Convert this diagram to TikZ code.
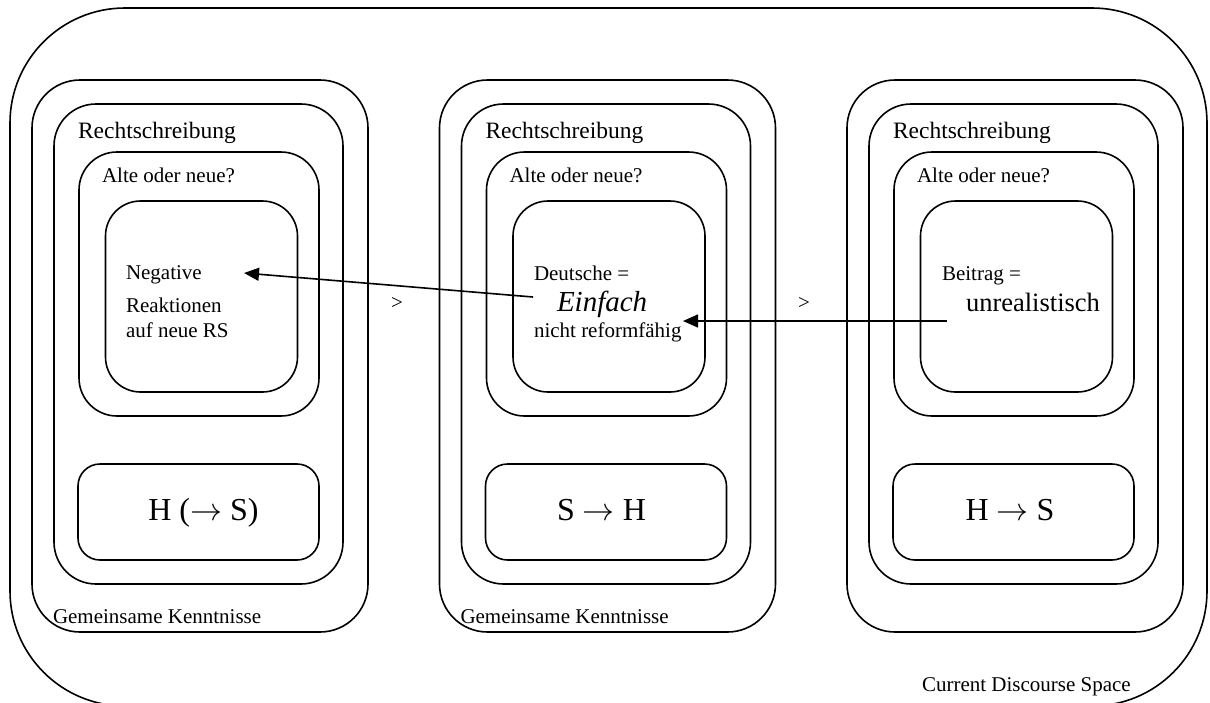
\RequirePackage{fix-cm}
\documentclass[tikz,border=0pt]{standalone}
\usepackage{fontspec}
\setmainfont{Liberation Serif}
\usetikzlibrary{arrows.meta}
\newcommand{\rarr}{\ensuremath{\rightarrow}}
\tikzset{
  rbox/.style={draw, line width=1.6pt, rectangle, rounded corners=#1, inner sep=0pt, outer sep=0pt},
  txt/.style={inner sep=0pt, outer sep=0pt, anchor=base west, font=\fontsize{21}{25}\selectfont},
  big/.style={inner sep=0pt, outer sep=0pt, anchor=base, font=\fontsize{32}{36}\selectfont},
  conn/.style={line width=1.6pt, -{Triangle[length=15pt,width=13pt]}},
}
\begin{document}
\begin{tikzpicture}[x=1pt,y=-1pt]
\useasboundingbox (0,0) rectangle (1210,702);
% outer space
\node[rbox=115pt, minimum width=1197pt, minimum height=698pt] (cds) at (608.5,357) {};
\node[txt] (cdslbl) at (922,691) {Current Discourse Space};
% columns
\foreach \i/\dx in {1/0, 2/407.5, 3/815} {
  \node[rbox=48pt, minimum width=336pt, minimum height=552pt] (g\i) at (200+\dx,356) {};
  \node[rbox=42pt, minimum width=289pt, minimum height=480pt] (r\i) at (198.5+\dx,344) {};
  \node[rbox=38pt, minimum width=240pt, minimum height=264pt] (a\i) at (199+\dx,284) {};
  \node[rbox=35pt, minimum width=192pt, minimum height=191pt] (in\i) at (201.5+\dx,296.5) {};
  \node[rbox=22pt, minimum width=241pt, minimum height=96pt] (h\i) at (198.5+\dx,512) {};
  \node[txt, font=\fontsize{23.5}{28}\selectfont] (rt\i) at (78+\dx,138) {Rechtschreibung};
  \node[txt] (at\i) at (102+\dx,182) {Alte oder neue?};
}
\node[txt] (gk1) at (53,623) {Gemeinsame Kenntnisse};
\node[txt] (gk2) at (460.5,623) {Gemeinsame Kenntnisse};
% column 1 inner text
\node[txt] (neg1) at (126,279) {Negative};
\node[txt] (neg2) at (126,312) {Reaktionen};
\node[txt] (neg3) at (126,337) {auf neue RS};
% column 2 inner text
\node[txt] (de1) at (534,280) {Deutsche =};
\node[txt, font=\fontsize{29}{33}\selectfont\itshape] (de2) at (557,311) {Einfach};
\node[txt] (de3) at (534,337) {nicht reformfähig};
% column 3 inner text
\node[txt] (be1) at (942,280) {Beitrag =};
\node[txt, font=\fontsize{26.5}{30}\selectfont] (be2) at (966,311) {unrealistisch};
% bottom boxes text
\node[big] (hs1) at (203.5,520) {H (\rarr\ S)};
\node[big] (sh2) at (601.5,520) {S \rarr\ H};
\node[big] (hs3) at (1010,520) {H \rarr\ S};
% > signs
\node[inner sep=0pt, font=\fontsize{21}{25}\selectfont] (gt1) at (397,303) {>};
\node[inner sep=0pt, font=\fontsize{21}{25}\selectfont] (gt2) at (804,303) {>};
% connectors
\coordinate (a1s) at (533,297);
\coordinate (a1e) at (244,273);
\coordinate (a2s) at (947,321);
\coordinate (a2e) at (683,321);
\draw[conn] (a1s) -- (a1e);
\draw[conn] (a2s) -- (a2e);
\end{tikzpicture}
\end{document}
